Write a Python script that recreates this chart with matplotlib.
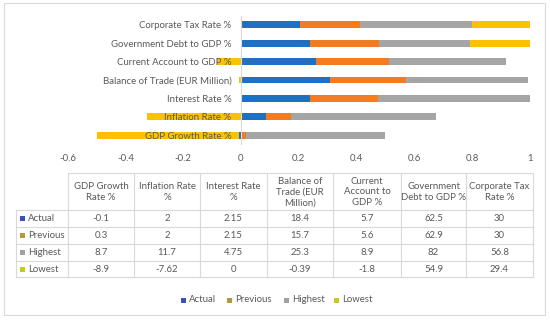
import numpy as np
import matplotlib.pyplot as plt
from matplotlib.patches import Rectangle

plt.rcParams['font.family'] = ['Lato', 'DejaVu Sans']

categories = ["GDP Growth Rate %", "Inflation Rate %", "Interest Rate %",
              "Balance of Trade (EUR Million)", "Current Account to GDP %",
              "Government Debt to GDP %", "Corporate Tax Rate %"]
headers = ["GDP Growth\nRate %", "Inflation Rate\n%", "Interest Rate\n%",
           "Balance of\nTrade (EUR\nMillion)", "Current\nAccount to\nGDP %",
           "Government\nDebt to GDP %", "Corporate Tax\nRate %"]
series = ["Actual", "Previous", "Highest", "Lowest"]
actual = [-0.1, 2, 2.15, 18.4, 5.7, 62.5, 30]
previous = [0.3, 2, 2.15, 15.7, 5.6, 62.9, 30]
highest = [8.7, 11.7, 4.75, 25.3, 8.9, 82, 56.8]
lowest = [-8.9, -7.62, 0, -0.39, -1.8, 54.9, 29.4]
xticks = [-0.6, -0.4, -0.2, 0, 0.2, 0.4, 0.6, 0.8, 1]

bar_colors = ['#1F6FC5', '#F47B20', '#A5A5A5', '#FFC000']
key_colors = ['#3C4FC0', '#B8963A', '#A0A0A0', '#C6CC14']
txt = '#595959'
grid = '#D9D9D9'
fs = 6.9

data = np.array([actual, previous, highest, lowest])
share = data / np.abs(data).sum(axis=0)   # 100% stacked

fig = plt.figure(figsize=(5.5, 3.21), dpi=100)

# overlay for border, table and legend (pixel coords)
ov = fig.add_axes([0, 0, 1, 1])
ov.set_xlim(0, 550)
ov.set_ylim(321, 0)
ov.axis('off')
ov.add_patch(Rectangle((4, 3), 541, 312, fill=False, ec=grid, lw=0.8))

ax = fig.add_axes([67.6 / 550, 1 - 144.2 / 321, (530 - 67.6) / 550, 128.4 / 321])
ax.patch.set_alpha(0)
y = np.arange(len(categories))
pos = np.zeros(len(categories))
neg = np.zeros(len(categories))
for i, name in enumerate(series):
    v = share[i]
    left = np.where(v >= 0, pos, neg)
    ax.barh(y, v, left=left, height=0.38, color=bar_colors[i], zorder=1)
    pos += np.clip(v, 0, None)
    neg += np.clip(v, None, 0)

ax.set_xlim(-0.6, 1)
ax.set_ylim(-0.5, 6.5)
for s in ['top', 'right', 'bottom']:
    ax.spines[s].set_visible(False)
ax.spines['left'].set_position(('data', 0))
ax.spines['left'].set_color(grid)
ax.spines['left'].set_linewidth(0.8)
ax.set_yticks(y, categories)
ax.set_xticks(xticks, [f"{t:g}" for t in xticks])
ax.tick_params(axis='y', length=0, pad=7, labelsize=fs, labelcolor=txt)
ax.tick_params(axis='x', length=0, pad=7, labelsize=fs, labelcolor=txt)

# data table
cols = [68, 134, 200, 267, 333, 401, 466, 533]
rows = [173, 210, 227, 244, 261, 277]
lw = 0.8
ov.plot([cols[0], cols[-1]], [rows[0], rows[0]], color=grid, lw=lw)
for r in rows[1:]:
    ov.plot([16, cols[-1]], [r, r], color=grid, lw=lw)
ov.plot([16, 16], [rows[1], rows[-1]], color=grid, lw=lw)
for c in cols:
    ov.plot([c, c], [rows[0], rows[-1]], color=grid, lw=lw)

for j, h in enumerate(headers):
    ov.text((cols[j] + cols[j + 1]) / 2, (rows[0] + rows[1]) / 2 + 0.5, h,
            ha='center', va='center', fontsize=fs, color=txt, linespacing=1.25)
for i, name in enumerate(series):
    yc = (rows[i + 1] + rows[i + 2]) / 2
    ov.add_patch(Rectangle((19.5, yc - 2.5), 5, 5, color=key_colors[i], lw=0))
    ov.text(28, yc, name, ha='left', va='center', fontsize=fs, color=txt)
    for j in range(len(categories)):
        ov.text((cols[j] + cols[j + 1]) / 2, yc, f"{data[i, j]:g}",
                ha='center', va='center', fontsize=fs, color=txt)

# legend
leg_x = [181, 227, 284, 334]
for i, name in enumerate(series):
    ov.add_patch(Rectangle((leg_x[i], 297.5), 5, 5, color=key_colors[i], lw=0))
    ov.text(leg_x[i] + 8, 300, name, ha='left', va='center', fontsize=fs, color=txt)

fig.savefig('out.png', dpi=100)
